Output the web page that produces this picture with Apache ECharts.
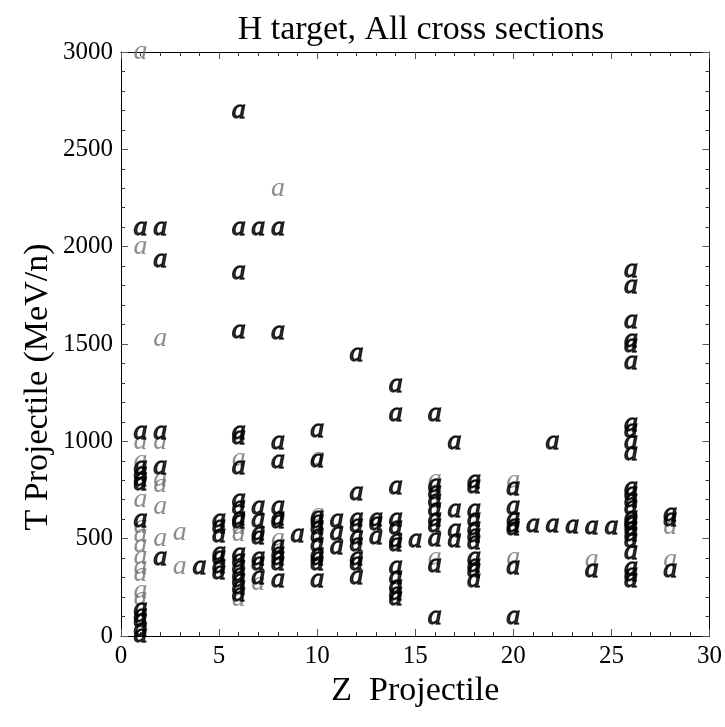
<!DOCTYPE html>
<html>
<head>
<meta charset="utf-8">
<script src="https://cdn.jsdelivr.net/npm/echarts@6/dist/echarts.min.js"></script>
<style>html,body{margin:0;padding:0;background:#fff}#c{width:725px;height:727px}</style>
</head>
<body>
<div id="c"></div>
<script>
// Points drawn dark (several overlapping measurements) : [Z, T]
const darkPoints = [
  [1,2100],[1,1050],[1,870],[1,840],[1,810],[1,790],[1,600],[1,140],[1,110],[1,85],[1,40],[1,5],
  [2,2100],[2,1935],[2,1050],[2,870],[2,400],
  [4,355],
  [5,600],[5,565],[5,520],[5,430],[5,410],[5,360],[5,330],
  [6,2700],[6,2100],[6,1870],[6,1570],[6,1050],[6,1025],[6,870],[6,700],[6,665],[6,610],[6,595],[6,425],[6,390],[6,355],[6,320],[6,290],[6,255],[6,220],
  [7,2100],[7,665],[7,600],[7,530],[7,510],[7,405],[7,375],[7,305],
  [8,2100],[8,1565],[8,1000],[8,900],[8,665],[8,610],[8,595],[8,465],[8,430],[8,400],[8,375],[8,290],
  [9,520],
  [10,1060],[10,905],[10,615],[10,595],[10,560],[10,520],[10,475],[10,425],[10,400],[10,375],[10,290],
  [11,600],[11,530],[11,460],
  [12,1450],[12,735],[12,605],[12,570],[12,510],[12,475],[12,405],[12,375],[12,305],
  [13,605],[13,580],[13,510],
  [14,1290],[14,1140],[14,765],[14,605],[14,560],[14,495],[14,475],[14,355],[14,305],[14,260],[14,225],[14,195],
  [15,495],
  [16,1140],[16,775],[16,740],[16,700],[16,655],[16,605],[16,570],[16,500],[16,365],[16,100],
  [17,1000],[17,650],[17,545],[17,495],
  [18,800],[18,770],[18,650],[18,605],[18,555],[18,520],[18,485],[18,405],[18,365],[18,340],[18,290],
  [20,760],[20,665],[20,605],[20,570],[20,555],[20,355],[20,100],
  [21,570],[22,1000],[22,570],[23,567],[24,561],[24,340],[25,561],
  [26,1880],[26,1800],[26,1620],[26,1520],[26,1495],[26,1410],[26,1090],[26,1060],[26,1000],[26,940],
  [26,760],[26,735],[26,700],[26,665],[26,615],[26,595],[26,580],[26,555],[26,525],[26,495],[26,435],[26,350],[26,320],[26,290],
  [28,630],[28,605],[28,340]
];
// Points drawn light (single measurement) : [Z, T]
const lightPoints = [
  [1,3000],[1,2000],[1,1000],[1,900],[1,700],[1,565],[1,520],[1,470],[1,410],[1,355],[1,320],[1,235],[1,195],
  [2,1530],[2,1000],[2,810],[2,780],[2,665],[2,500],
  [3,530],[3,355],
  [6,910],[6,560],[6,525],[6,190],
  [7,275],
  [8,2300],[8,500],
  [10,915],[10,630],
  [16,805],[16,400],
  [20,800],[20,400],
  [24,390],
  [28,560],[28,390]
];
const xTicks = [0,5,10,15,20,25,30];
const yTicks = [0,500,1000,1500,2000,2500,3000];

const serif = 'Liberation Serif, Times New Roman, serif';
const glyph = (color, border) => ({
  show: true, formatter: 'a', position: 'inside',
  fontFamily: serif, fontStyle: 'italic', fontSize: 28,
  color: color, textBorderColor: color, textBorderWidth: border
});
const axisCommon = (showLabel) => ({
  axisLine: {show: true, onZero: false, lineStyle: {color: '#000', width: 1}},
  axisTick: {show: true, inside: true, length: 7, lineStyle: {color: '#555'}},
  minorTick: {show: true, splitNumber: 5, length: 4, lineStyle: {color: '#333'}},
  splitLine: {show: false},
  axisLabel: {show: showLabel, fontFamily: serif, fontSize: 25, color: '#000', margin: 8,
    formatter: (v) => String(v)}
});

const chart = echarts.init(document.getElementById('c'), null, {renderer: 'canvas'});
chart.setOption({
  animation: false,
  backgroundColor: '#fff',
  title: {
    text: 'H target, All cross sections', left: 416, top: 8, textAlign: 'center',
    textStyle: {fontFamily: serif, fontSize: 34, fontWeight: 'normal', color: '#000'}
  },
  graphic: [{
    type: 'text', x: 38, y: 387, rotation: Math.PI / 2,
    style: {text: 'T Projectile (MeV/n)', fontFamily: serif, fontSize: 34, fill: '#000',
      textAlign: 'center', textVerticalAlign: 'middle'}
  }],
  grid: {left: 121, right: 15, top: 52, bottom: 91, containLabel: false},
  xAxis: [
    Object.assign({type: 'value', position: 'bottom', min: xTicks[0], max: xTicks[xTicks.length-1], interval: 5,
      name: 'Z  Projectile', nameLocation: 'middle', nameGap: 27,
      nameTextStyle: {fontFamily: serif, fontSize: 34, color: '#000'}}, axisCommon(true)),
    Object.assign({type: 'value', position: 'top', min: 0, max: 30, interval: 5}, axisCommon(false))
  ],
  yAxis: [
    Object.assign({type: 'value', position: 'left', min: yTicks[0], max: yTicks[yTicks.length-1], interval: 500}, axisCommon(true)),
    Object.assign({type: 'value', position: 'right', min: 0, max: 3000, interval: 500}, axisCommon(false))
  ],
  series: [
    {type: 'scatter', name: 'single', data: lightPoints, symbol: 'circle', symbolSize: 1,
     itemStyle: {color: 'rgba(0,0,0,0)'}, label: glyph('#707070', 0), xAxisIndex: 0, yAxisIndex: 0, z: 2},
    {type: 'scatter', name: 'multiple', data: darkPoints, symbol: 'circle', symbolSize: 1,
     itemStyle: {color: 'rgba(0,0,0,0)'}, label: glyph('#000', 1.3), xAxisIndex: 0, yAxisIndex: 0, z: 3}
  ]
});
</script>
</body>
</html>
